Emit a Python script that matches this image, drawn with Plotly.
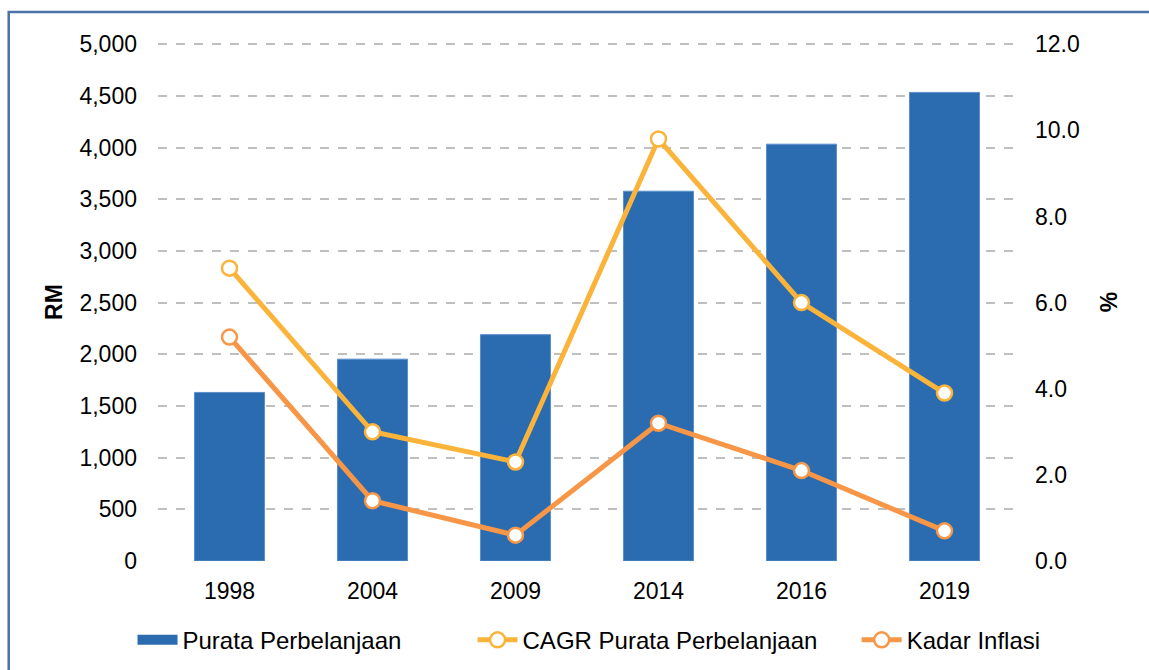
import plotly.graph_objects as go

# Household expenditure survey summary
years = ["1998", "2004", "2009", "2014", "2016", "2019"]
purata_perbelanjaan = [1631, 1953, 2190, 3578, 4033, 4534]   # RM
cagr_perbelanjaan = [6.8, 3.0, 2.3, 9.8, 6.0, 3.9]             # %
kadar_inflasi = [5.2, 1.4, 0.6, 3.2, 2.1, 0.7]                 # %

left_ticks = [0, 500, 1000, 1500, 2000, 2500, 3000, 3500, 4000, 4500, 5000]
right_ticks = [0, 2, 4, 6, 8, 10, 12]

BAR_BLUE = "#2B6CB1"
CAGR_YELLOW = "#FBB33A"
INFL_ORANGE = "#F79646"
FONT = "Liberation Sans, Arial, sans-serif"
FS = 23
LEG_FS = 24

fig = go.Figure()

fig.add_trace(go.Bar(
    x=years, y=purata_perbelanjaan, name="Purata Perbelanjaan",
    marker=dict(color=BAR_BLUE, line=dict(color="#5B8FCB", width=1)),
    yaxis="y", showlegend=False,
))
# legend key for the bars: a wide solid block
fig.add_trace(go.Scatter(
    x=[None], y=[None], name="Purata Perbelanjaan", mode="lines",
    line=dict(color=BAR_BLUE, width=13), yaxis="y", legend="legend",
))

marker_style = lambda c: dict(size=15, color="white", line=dict(color=c, width=2.5))

fig.add_trace(go.Scatter(
    x=years, y=cagr_perbelanjaan, name="CAGR Purata Perbelanjaan",
    mode="lines+markers", line=dict(color=CAGR_YELLOW, width=5),
    marker=marker_style(CAGR_YELLOW), yaxis="y2", legend="legend2",
))

fig.add_trace(go.Scatter(
    x=years, y=kadar_inflasi, name="Kadar Inflasi",
    mode="lines+markers", line=dict(color=INFL_ORANGE, width=5),
    marker=marker_style(INFL_ORANGE), yaxis="y2", legend="legend3",
))

leg = lambda x: dict(
    orientation="h", x=x, xanchor="left", y=-0.153, yanchor="middle",
    font=dict(size=LEG_FS), itemwidth=40, bgcolor="rgba(0,0,0,0)",
)

fig.update_layout(
    width=1149, height=670,
    margin=dict(l=158, r=133, t=43, b=109, autoexpand=False),
    paper_bgcolor="white", plot_bgcolor="white",
    font=dict(family=FONT, size=FS, color="#000000"),
    bargap=0.51,
    showlegend=True,
    legend=leg(-0.0297),
    legend2=leg(0.3666),
    legend3=leg(0.8143),
    xaxis=dict(
        showgrid=False, showline=False, ticks="", automargin=False,
        tickfont=dict(size=FS), ticklabelstandoff=14,
    ),
    yaxis=dict(
        range=[0, 5012], tickvals=left_ticks, tickformat=",",
        showgrid=True, gridcolor="#BFBFBF", griddash="dash", gridwidth=1.5,
        zeroline=False, showline=False, ticks="", automargin=False,
        tickfont=dict(size=FS), ticklabelstandoff=20,
        title=dict(text="<b>RM</b>", font=dict(size=FS), standoff=10),
    ),
    yaxis2=dict(
        range=[0, 12.0288], tickvals=right_ticks, tickformat=".1f",
        overlaying="y", side="right", showgrid=False, zeroline=False,
        showline=False, ticks="", automargin=False,
        tickfont=dict(size=FS), ticklabelstandoff=18,
        title=dict(text="<b>%</b>", font=dict(size=FS), standoff=22),
    ),
    shapes=[dict(
        type="rect", xref="paper", yref="paper",
        x0=-0.174, x1=1.2, y0=-0.3, y1=1.06,
        line=dict(color="#4A72A8", width=2.5), layer="below",
    )],
)

fig.write_html("out.html")
